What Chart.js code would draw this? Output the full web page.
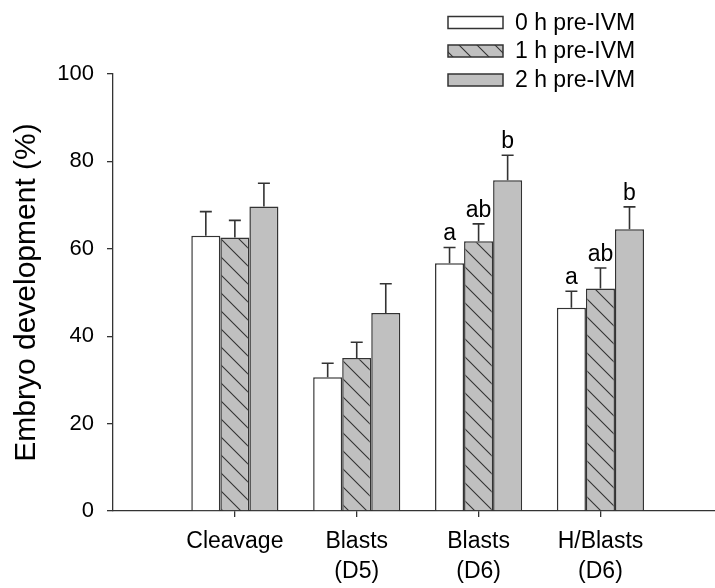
<!DOCTYPE html>
<html>
<head>
<meta charset="utf-8">
<script src="https://cdn.jsdelivr.net/npm/chart.js@4.4.0/dist/chart.umd.min.js"></script>
<style>
    body { margin: 0; background: #fff; }
    #wrap { width: 715px; height: 588px; position: relative; }
</style>
</head>
<body>
<div id="wrap"><canvas id="embryoChart"></canvas></div>
<script>
        const categories = [['Cleavage'], ['Blasts', '(D5)'], ['Blasts', '(D6)'], ['H/Blasts', '(D6)']];
        const seriesLabels = ['0 h pre-IVM', '1 h pre-IVM', '2 h pre-IVM'];

        const h0 = [63.0, 30.6, 56.7, 46.5];
        const h0Err = [5.5, 3.2, 3.6, 3.8];
        const h1 = [62.6, 35.0, 61.7, 50.9];
        const h1Err = [3.9, 3.6, 4.0, 4.7];
        const h2 = [69.7, 45.3, 75.7, 64.5];
        const h2Err = [5.3, 6.7, 5.7, 5.1];

        const h0Letters = ['', '', 'a', 'a'];
        const h1Letters = ['', '', 'ab', 'ab'];
        const h2Letters = ['', '', 'b', 'b'];

        const yTicks = [0, 20, 40, 60, 80, 100];

        const FONT = "'Liberation Sans', Arial, sans-serif";
        const INK = '#333';

        function hatchPattern() {
            const s = 18;
            const c = document.createElement('canvas');
            c.width = s; c.height = s;
            const g = c.getContext('2d');
            g.fillStyle = '#c0c0c0';
            g.fillRect(0, 0, s, s);
            g.strokeStyle = INK;
            g.lineWidth = 1.1;
            g.beginPath();
            g.moveTo(0, 0); g.lineTo(s, s);
            g.moveTo(-2, s - 2); g.lineTo(2, s + 2);
            g.moveTo(s - 2, -2); g.lineTo(s + 2, 2);
            g.stroke();
            return g.createPattern(c, 'repeat');
        }

        const toPoints = vals => vals.map((v, i) => ({ x: i + 1, y: v }));

        // error bars (upward only) + significance letters
        const errorBarPlugin = {
            id: 'errorBars',
            afterDatasetsDraw(chart) {
                const ctx = chart.ctx;
                const yScale = chart.scales.y;
                chart.data.datasets.forEach((ds, di) => {
                    const meta = chart.getDatasetMeta(di);
                    meta.data.forEach((bar, j) => {
                        const top = yScale.getPixelForValue(ds.data[j].y + ds.errors[j]);
                        ctx.save();
                        ctx.strokeStyle = INK;
                        ctx.lineWidth = 1.6;
                        ctx.beginPath();
                        ctx.moveTo(bar.x, bar.y);
                        ctx.lineTo(bar.x, top);
                        ctx.moveTo(bar.x - 6, top);
                        ctx.lineTo(bar.x + 6, top);
                        ctx.stroke();
                        if (ds.letters[j]) {
                            ctx.fillStyle = '#000';
                            ctx.font = '23px ' + FONT;
                            ctx.textAlign = 'center';
                            ctx.textBaseline = 'alphabetic';
                            ctx.fillText(ds.letters[j], bar.x, top - 7);
                        }
                        ctx.restore();
                    });
                });
            }
        };

        const legendPlugin = {
            id: 'boxLegend',
            afterDraw(chart) {
                const ctx = chart.ctx;
                const rows = [22.5, 51, 80];
                chart.data.datasets.forEach((ds, i) => {
                    const cy = rows[i];
                    ctx.save();
                    ctx.fillStyle = ds.backgroundColor;
                    ctx.fillRect(448, cy - 6, 55, 12);
                    ctx.strokeStyle = INK;
                    ctx.lineWidth = 1.5;
                    ctx.strokeRect(448, cy - 6, 55, 12);
                    ctx.fillStyle = '#000';
                    ctx.font = '23px ' + FONT;
                    ctx.textBaseline = 'middle';
                    ctx.textAlign = 'left';
                    ctx.fillText(ds.label, 515, cy + 1);
                    ctx.restore();
                });
            }
        };

        function makeSet(label, vals, errs, letters, fill) {
            return {
                label: label,
                data: toPoints(vals),
                errors: errs,
                letters: letters,
                backgroundColor: fill,
                borderColor: INK,
                borderWidth: 1.5,
                barPercentage: 1.0,
                categoryPercentage: 0.715
            };
        }

        const ctx = document.getElementById('embryoChart').getContext('2d');
        window.embryoChart = new Chart(ctx, {
            type: 'bar',
            data: {
                datasets: [
                    makeSet(seriesLabels[0], h0, h0Err, h0Letters, '#ffffff'),
                    makeSet(seriesLabels[1], h1, h1Err, h1Letters, hatchPattern()),
                    makeSet(seriesLabels[2], h2, h2Err, h2Letters, '#c0c0c0')
                ]
            },
            options: {
                responsive: true,
                maintainAspectRatio: false,
                animation: false,
                layout: { padding: { top: 74, right: 0, bottom: 0, left: 0 } },
                plugins: { legend: { display: false }, tooltip: { enabled: false } },
                scales: {
                    x: {
                        type: 'linear',
                        offset: false,
                        min: 0,
                        max: 4.94,
                        afterFit: scale => { scale.height = 77; },
                        afterBuildTicks: scale => {
                            scale.ticks = categories.map((c, i) => ({ value: i + 1 }));
                        },
                        ticks: {
                            autoSkip: false,
                            maxRotation: 0,
                            padding: 10,
                            color: '#000',
                            font: { family: FONT, size: 23, lineHeight: 1.3 },
                            callback: (v, i) => categories[i]
                        },
                        grid: { offset: false, drawOnChartArea: false, tickLength: 6, color: INK, lineWidth: 1.3 },
                        border: { display: true, color: INK, width: 1.3 }
                    },
                    y: {
                        min: 0,
                        max: 100,
                        afterFit: scale => { scale.width = 113; },
                        afterBuildTicks: scale => {
                            scale.ticks = yTicks.map(v => ({ value: v }));
                        },
                        ticks: {
                            padding: 13,
                            color: '#000',
                            font: { family: FONT, size: 22 }
                        },
                        grid: { drawOnChartArea: false, tickLength: 6, color: INK, lineWidth: 1.3 },
                        border: { display: true, color: INK, width: 1.3 },
                        title: {
                            display: true,
                            text: 'Embryo development (%)',
                            color: '#000',
                            font: { family: FONT, size: 30 },
                            padding: { top: 9, bottom: 0 }
                        }
                    }
                }
            },
            plugins: [errorBarPlugin, legendPlugin]
        });
</script>
</body>
</html>
